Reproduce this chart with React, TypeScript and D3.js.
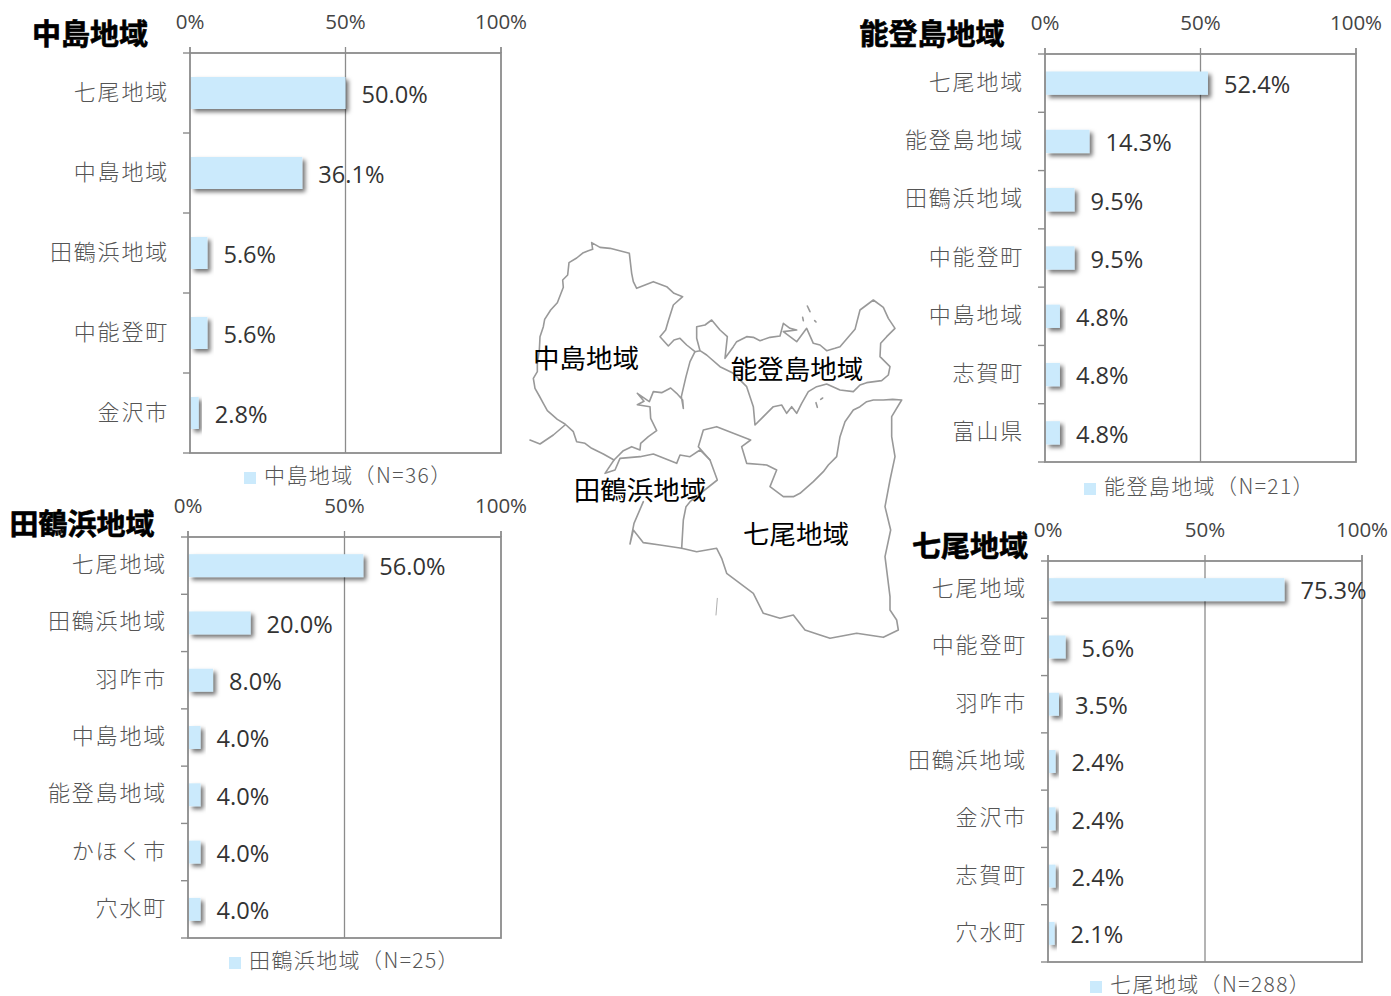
import React from "react";
import * as d3 from "d3";

// ---------- data ----------
const nakajimaCats = ["七尾地域", "中島地域", "田鶴浜地域", "中能登町", "金沢市"];
const nakajimaVals = [50.0, 36.1, 5.6, 5.6, 2.8];
const notojimaCats = ["七尾地域", "能登島地域", "田鶴浜地域", "中能登町", "中島地域", "志賀町", "富山県"];
const notojimaVals = [52.4, 14.3, 9.5, 9.5, 4.8, 4.8, 4.8];
const tatsuruhamaCats = ["七尾地域", "田鶴浜地域", "羽咋市", "中島地域", "能登島地域", "かほく市", "穴水町"];
const tatsuruhamaVals = [56.0, 20.0, 8.0, 4.0, 4.0, 4.0, 4.0];
const nanaoCats = ["七尾地域", "中能登町", "羽咋市", "田鶴浜地域", "金沢市", "志賀町", "穴水町"];
const nanaoVals = [75.3, 5.6, 3.5, 2.4, 2.4, 2.4, 2.1];
const axisTicks = [0, 50, 100];

// map outlines (crop units, 3 per pixel)
type P = [number, number];
const outlineNakajima: P[] = [[215,38],[218,58],[205,62],[190,68],[170,84],[147,98],[143,135],[128,150],[130,172],[112,218],[92,240],[74,268],[70,290],[60,320],[58,360],[52,400],[52,425],[40,445],[45,475],[58,498],[70,520],[82,542],[112,568],[135,582],[160,605],[170,635],[195,640],[215,655],[250,672],[282,690],[310,662],[335,650],[360,660],[362,640],[385,620],[410,602],[392,565],[390,530],[352,524],[372,514],[352,490],[388,515],[400,485],[425,488],[452,474],[470,490],[488,510],[490,535],[484,500],[498,440],[510,395],[525,365],[500,345],[480,325],[462,330],[445,348],[420,320],[437,300],[445,272],[460,225],[488,200],[462,190],[440,170],[400,155],[375,165],[350,175],[340,155],[335,130],[328,70],[270,55],[240,52],[215,38]];
const tailWest: P[] = [[135,585],[100,615],[60,642],[30,630]];
const outlineNotojima: P[] = [[525,365],[540,362],[530,325],[530,290],[555,285],[575,270],[600,300],[622,320],[615,385],[640,350],[650,335],[680,320],[700,322],[720,332],[750,322],[780,318],[790,280],[810,295],[830,300],[790,305],[830,335],[860,295],[880,340],[900,345],[920,362],[945,355],[960,350],[1005,298],[1020,240],[1040,225],[1060,210],[1090,232],[1105,265],[1125,295],[1100,320],[1082,340],[1080,380],[1110,410],[1105,435],[1085,452],[1040,458],[1020,465],[1000,485],[960,480],[920,462],[890,470],[865,485],[845,520],[830,550],[815,530],[800,550],[785,525],[760,530],[705,585],[700,530],[690,500],[680,470],[640,430],[600,410],[560,375],[540,362]];
const outlineNanao: P[] = [[1145,510],[1118,508],[1090,510],[1060,510],[1040,515],[1020,530],[1000,540],[975,575],[960,620],[950,680],[925,705],[910,725],[880,755],[840,790],[820,800],[790,800],[750,770],[770,720],[740,705],[680,700],[665,650],[692,630],[640,610],[590,590],[550,600],[535,650],[570,690],[592,750],[510,815],[498,830],[490,870],[485,955],[530,965],[590,955],[605,985],[620,1030],[660,1060],[700,1090],[730,1150],[780,1165],[820,1155],[855,1200],[900,1215],[930,1225],[1010,1210],[1090,1222],[1135,1200],[1130,1170],[1110,1140],[1110,1100],[1095,980],[1112,900],[1095,830],[1110,750],[1125,680],[1115,620],[1115,560],[1145,510]];
const outlineTatsuruhama: P[] = [[282,690],[255,730],[285,720],[300,685],[360,680],[400,672],[470,700],[480,675],[510,680],[540,660],[570,690]];
const outlineTatsuruhamaSouth: P[] = [[370,815],[342,880],[330,942],[340,900],[370,938],[420,945],[485,955]];
const islandA: P[] = [[862,228],[870,245]];
const islandB: P[] = [[848,262],[850,272]];
const islandC: P[] = [[884,272],[888,276]];
const islandD: P[] = [[888,518],[892,532]];
const islandE: P[] = [[902,508],[908,504]];
const stray: P[] = [[592,1105],[588,1155]];
const mapOutlines: P[][] = [outlineNakajima, tailWest, outlineNotojima, outlineNanao, outlineTatsuruhama, outlineTatsuruhamaSouth, islandA, islandB, islandC, islandD, islandE, stray];
const mapLabels = ["中島地域", "能登島地域", "田鶴浜地域", "七尾地域"];

const JP = "'Noto Sans CJK JP','Noto Sans',sans-serif";
const NUM = "'Open Sans','Noto Sans CJK JP',sans-serif";
const GRID = "#8c8c8c";

type PanelProps = {
  title: string; cats: string[]; vals: number[]; legend: string;
  left: number; right: number; top: number; bottom: number;
  titleX: number; titleY: number; legendX: number; legendY: number;
};

function Panel(p: PanelProps) {
  const x = d3.scaleLinear().domain([0, 100]).range([p.left, p.right]);
  const y = d3.scaleBand<string>().domain(p.cats).range([p.top, p.bottom]).paddingInner(0.6).paddingOuter(0.3);
  const rows = d3.scaleBand<string>().domain(p.cats).range([p.top, p.bottom]);
  const edges = p.cats.map((c) => rows(c) as number).concat([p.bottom]);
  return (
    <g>
      <text x={p.titleX} y={p.titleY - 2} textAnchor="middle" dominantBaseline="central"
        fontFamily={JP} fontWeight={700} fontSize={29} fill="#000" stroke="#000" strokeWidth={0.6}>{p.title}</text>
      <rect x={p.left} y={p.top} width={p.right - p.left} height={p.bottom - p.top} fill="none" stroke={GRID} strokeWidth={1.8} />
      {axisTicks.map((t) => (
        <g key={t}>
          <line x1={x(t)} x2={x(t)} y1={p.top - 6} y2={t === 50 ? p.bottom : p.top} stroke={GRID} strokeWidth={t === 50 ? 1.3 : 1.8} />
          <text x={x(t)} y={p.top - 32} textAnchor="middle" dominantBaseline="central" fontFamily={NUM} fontSize={20.5} fill="#444">{t}%</text>
        </g>
      ))}
      {edges.map((e, i) => (
        <line key={i} x1={p.left - 7} x2={p.left} y1={e} y2={e} stroke={GRID} strokeWidth={1.4} />
      ))}
      {p.cats.map((c, i) => {
        const cy = (rows(c) as number) + rows.bandwidth() / 2;
        return (
          <g key={c}>
            <rect x={p.left + 1} y={y(c) as number} width={x(p.vals[i]) - x(0) - 1} height={y.bandwidth()} fill="#cbeafc" filter="url(#shadow)" />
            <text x={p.left - 21} y={cy - 3.5} textAnchor="end" dominantBaseline="central" fontFamily={JP} fontWeight={300} fontSize={22} letterSpacing={1.8} fill="#555">{c}</text>
            <text x={x(p.vals[i]) + 16} y={cy + 0.8} dominantBaseline="central" fontFamily={NUM} fontSize={23.6} fill="#333">{p.vals[i].toFixed(1)}%</text>
          </g>
        );
      })}
      <rect x={p.legendX} y={p.legendY - 6} width={12} height={12} fill="#cbeafc" />
      <text x={p.legendX + 20} y={p.legendY - 4} dominantBaseline="central" fontFamily={JP} fontWeight={300} fontSize={21} letterSpacing={1.4} fill="#555">{p.legend}</text>
    </g>
  );
}

function MapView() {
  const mx = d3.scaleLinear().domain([0, 400 * 3]).range([520, 920]);
  const my = d3.scaleLinear().domain([0, 420 * 3]).range([230, 650]);
  const line = d3.line<P>().x((d) => mx(d[0])).y((d) => my(d[1])).curve(d3.curveLinear);
  const labelPos: [number, number][] = [[586, 356], [797, 367], [640, 488], [796, 532]];
  return (
    <g>
      {mapOutlines.map((o, i) => (
        <path key={i} d={line(o) as string} fill="none" stroke="#999" strokeWidth={o === stray ? 0.8 : 1.6} strokeLinejoin="round" strokeLinecap="round" />
      ))}
      {mapLabels.map((l, i) => (
        <text key={l} x={labelPos[i][0]} y={labelPos[i][1]} textAnchor="middle" dominantBaseline="central"
          fontFamily={JP} fontSize={26.5} fill="#000">{l}</text>
      ))}
    </g>
  );
}

export default function App() {
  return (
    <svg width={1391} height={996} viewBox="0 0 1391 996" style={{ position: "absolute", left: 0, top: 0, display: "block", background: "#fff" }}>
      <defs>
        <filter id="shadow" x="-20%" y="-30%" width="160%" height="180%">
          <feDropShadow dx={3} dy={3} stdDeviation={2.2} floodColor="#000" floodOpacity={0.55} />
        </filter>
      </defs>
      <MapView />
      <Panel title="中島地域" cats={nakajimaCats} vals={nakajimaVals} legend="中島地域（N=36）"
        left={190} right={501} top={53} bottom={453} titleX={90} titleY={34} legendX={244} legendY={478} />
      <Panel title="能登島地域" cats={notojimaCats} vals={notojimaVals} legend="能登島地域（N=21）"
        left={1045} right={1356} top={54} bottom={462} titleX={932} titleY={34} legendX={1084} legendY={489} />
      <Panel title="田鶴浜地域" cats={tatsuruhamaCats} vals={tatsuruhamaVals} legend="田鶴浜地域（N=25）"
        left={188} right={501} top={537} bottom={938} titleX={82} titleY={524} legendX={229} legendY={963} />
      <Panel title="七尾地域" cats={nanaoCats} vals={nanaoVals} legend="七尾地域（N=288）"
        left={1048} right={1362} top={561} bottom={962} titleX={970} titleY={546} legendX={1090} legendY={987} />
    </svg>
  );
}
